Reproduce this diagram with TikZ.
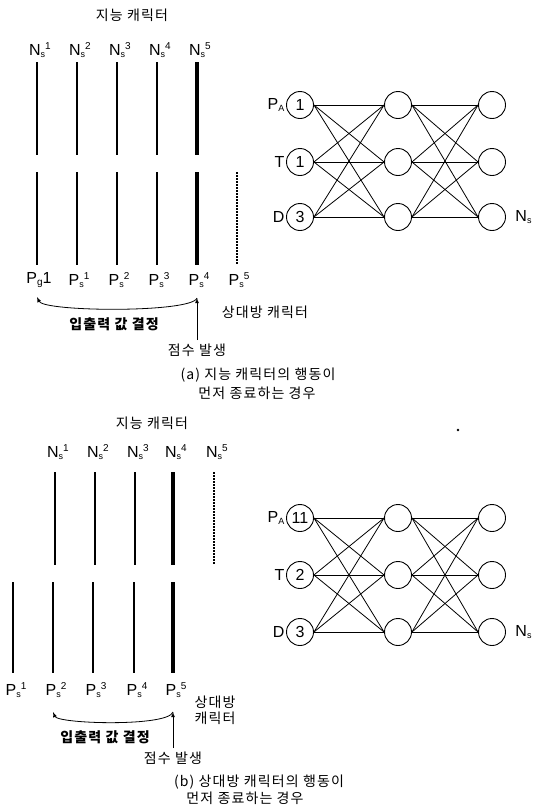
\documentclass[tikz,border=0pt]{standalone}
\usepackage{fontspec}
\setmainfont{Liberation Sans}
\newfontfamily\krfont[LetterSpace=8]{Noto Sans CJK KR}
\usepackage{tikz}
\newcommand{\Nsup}[1]{N\raisebox{-2pt}{\fontsize{9}{9}\selectfont s}\raisebox{6pt}{\fontsize{10}{10}\selectfont #1}}
\newcommand{\Psup}[1]{P\raisebox{-2pt}{\fontsize{9}{9}\selectfont s}\raisebox{6pt}{\fontsize{10}{10}\selectfont #1}}
\tikzset{every node/.style={font=\fontsize{16}{18}\selectfont}}
\tikzset{
  kor/.style={font=\krfont\fontsize{14}{16}\selectfont},
  korb/.style={font=\krfont\bfseries\fontsize{14}{16}\selectfont},
  neuron/.style={draw,circle,minimum size=27pt,inner sep=0pt,line width=0.9pt},
  bar/.style={line width=1.3pt},
  fatbar/.style={line width=4.5pt},
  dotbar/.style={line width=1.1pt,dash pattern=on 1.5pt off 1.5pt},
  link/.style={line width=0.8pt}
}

\begin{document}
\begin{tikzpicture}[x=1pt,y=-1pt]
  \useasboundingbox (0,0) rectangle (533,809);
  % (a) character time lines
  \node[kor] (titleA) at (132,15) {지능 캐릭터};
  \foreach \i/\x in {1/37,2/77,3/117,4/157,5/197}
    \node (na\i) at (\x+3,50) {\Nsup{\i}};
  \foreach \x in {37,77,117,157} {
    \draw[bar] (\x,62) -- (\x,155);
    \draw[bar] (\x,172) -- (\x,265);
  }
  \draw[fatbar] (197,62) -- (197,155);
  \draw[fatbar] (197,172) -- (197,265);
  \draw[dotbar] (237,172) -- (237,265);
  \node (pg) at (39,280) {P\raisebox{-2pt}{\fontsize{10}{10}\selectfont g}1};
  \foreach \i/\x in {1/77,2/117,3/157,4/197,5/237}
    \node (pa\i) at (\x+2,280) {\Psup{\i}};
  \coordinate (hitA) at (197,298);
  \coordinate (retA) at (37,297);
  \node[korb] (ioA) at (114,324) {입출력 값 결정};
  \node[kor] (oppA) at (265,312) {상대방 캐릭터};
  \node[kor] (scoreA) at (197,350) {점수 발생};
  \draw[link,-latex] (scoreA.north) -- (hitA);
  \draw[link,-latex] (hitA) .. controls (192,313) and (44,312) .. (retA);
  \node[kor] (capA1) at (258,375) {(a) 지능 캐릭터의 행동이};
  \node[kor] (capA2) at (257,393) {먼저 종료하는 경우};
  % (a) network
  \foreach \i/\y/\t in {1/105/1,2/162/1,3/217/3} {
    \node[neuron] (ia\i) at (300,\y) {\t};
    \node[neuron] (ha\i) at (398,\y) {};
    \node[neuron] (oa\i) at (492,\y) {};
  }
  \foreach \i in {1,2,3} \foreach \j in {1,2,3} {
    \draw[link] (ia\i.east) -- (ha\j.west);
    \draw[link] (ha\i.east) -- (oa\j.west);
  }
  \node[anchor=east,inner sep=1.5pt] (lpA) at (ia1.west) {P\raisebox{-2pt}{\fontsize{9}{9}\selectfont A}};
  \node[anchor=east,inner sep=1.5pt] (ltA) at (ia2.west) {T};
  \node[anchor=east,inner sep=1.5pt] (ldA) at (ia3.west) {D};
  \node[anchor=west] (lnA) at ([xshift=6pt]oa3.east) {N\raisebox{-2pt}{\fontsize{9}{9}\selectfont s}};

  \fill (458,430) circle (1.3pt);

  % (b) character time lines
  \node[kor] (titleB) at (152,423) {지능 캐릭터};
  \foreach \i/\x in {1/55,2/95,3/135,4/173,5/214}
    \node (nb\i) at (\x+3,452) {\Nsup{\i}};
  \foreach \x in {55,95,135}
    \draw[bar] (\x,472) -- (\x,565);
  \draw[fatbar] (173,472) -- (173,565);
  \draw[dotbar] (214,472) -- (214,565);
  \foreach \x in {13,53,93,134}
    \draw[bar] (\x,582) -- (\x,673);
  \draw[fatbar] (173,582) -- (173,673);
  \foreach \i/\x in {1/13,2/53,3/93,4/134,5/173}
    \node (pb\i) at (\x+3,690) {\Psup{\i}};
  \coordinate (hitB) at (173,712);
  \coordinate (retB) at (53,712);
  \node[korb] (ioB) at (105,737) {입출력 값 결정};
  \node[kor,anchor=west,align=left] (oppB) at (191,710) {상대방\\캐릭터};
  \node[kor] (scoreB) at (173,758) {점수 발생};
  \draw[link,-latex] (scoreB.north) -- (hitB);
  \draw[link,-latex] (hitB) .. controls (168,727) and (58,724) .. (retB);
  \node[kor] (capB1) at (259,782) {(b) 상대방 캐릭터의 행동이};
  \node[kor] (capB2) at (245,798) {먼저 종료하는 경우};
  % (b) network
  \foreach \i/\y/\t in {1/518/11,2/575/2,3/632/3} {
    \node[neuron] (ib\i) at (300,\y) {\t};
    \node[neuron] (hb\i) at (398,\y) {};
    \node[neuron] (ob\i) at (492,\y) {};
  }
  \foreach \i in {1,2,3} \foreach \j in {1,2,3} {
    \draw[link] (ib\i.east) -- (hb\j.west);
    \draw[link] (hb\i.east) -- (ob\j.west);
  }
  \node[anchor=east,inner sep=1.5pt] (lpB) at (ib1.west) {P\raisebox{-2pt}{\fontsize{9}{9}\selectfont A}};
  \node[anchor=east,inner sep=1.5pt] (ltB) at (ib2.west) {T};
  \node[anchor=east,inner sep=1.5pt] (ldB) at (ib3.west) {D};
  \node[anchor=west] (lnB) at ([xshift=6pt]ob3.east) {N\raisebox{-2pt}{\fontsize{9}{9}\selectfont s}};
\end{tikzpicture}
\end{document}
